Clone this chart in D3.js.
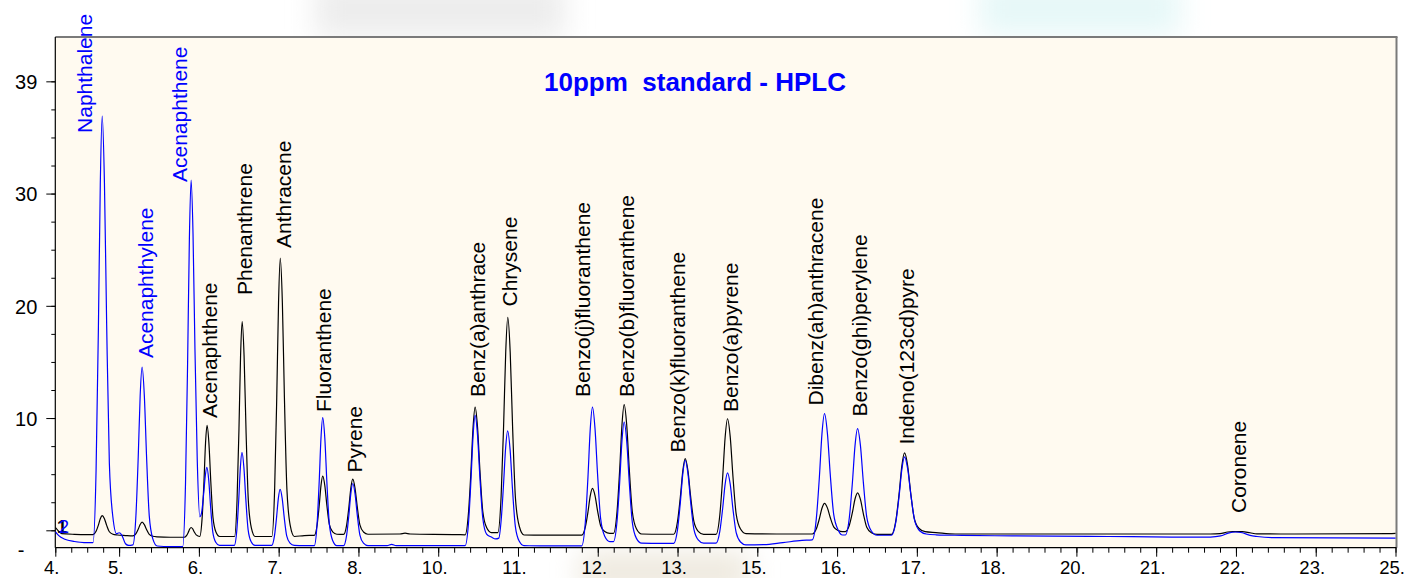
<!DOCTYPE html>
<html><head><meta charset="utf-8">
<script src="https://cdn.jsdelivr.net/npm/d3@7"></script>
<style>
body{margin:0;background:#fff;}
svg{display:block;}
text{font-family:"Liberation Sans",Arial,Helvetica,sans-serif;}
</style>
</head><body>
<svg id="chart" width="1407" height="578"></svg>
<script>
// ---------------- DATA ----------------
const chartTitle = "10ppm  standard - HPLC";
const xStartLabel = "4.";
const xTickValues = [5,6.25,7.5,8.75,10,11.25,12.5,13.75,15,16.25,17.5,18.75,20,21.25,22.5,23.75,25];
const xTickLabels = ["5.","6.","7.","8.","10.","11.","12.","13.","15.","16.","17.","18.","20.","21.","22.","23.","25."];
const yTickValues = [0,10,20,30,40];
const yTickLabels = ["","10","20","30","39"];
const yBottomLabel = "-";
const channelMarkers = ["1","2"];

// black trace (UV channel): [time (min), signal]
const blackTrace = [
[4.00,0.25],[4.04,0.0],[4.10,-0.3],[4.30,-0.36],[4.50,-0.38],
[4.591,-0.38],[4.639,-0.09],[4.675,0.46],[4.705,1.03],[4.735,1.3],[4.770,1.03],[4.805,0.44],[4.847,-0.13],[4.903,-0.35],[4.973,-0.42],
[5.10,-0.47],
[5.216,-0.5],[5.264,-0.29],[5.300,0.11],[5.330,0.52],[5.360,0.72],[5.395,0.51],[5.430,0.07],[5.472,-0.36],[5.528,-0.53],[5.598,-0.58],
[5.80,-0.62],[6.02,-0.62],
[6.056,-0.47],[6.083,-0.19],[6.106,0.11],[6.128,0.25],[6.153,0.12],[6.178,-0.15],[6.208,-0.41],
[6.263,-0.55],[6.301,1.13],[6.330,4.4],[6.354,7.77],[6.378,9.35],[6.407,7.77],[6.436,4.4],[6.471,1.13],[6.517,-0.15],[6.575,-0.55],
[6.808,-0.55],[6.848,2.71],[6.878,9.03],[6.903,15.54],[6.928,18.6],[6.958,15.54],[6.988,9.03],[7.024,2.71],[7.072,0.22],[7.132,-0.55],
[7.393,-0.55],[7.437,3.67],[7.470,11.85],[7.498,20.28],[7.525,24.25],[7.558,20.28],[7.590,11.85],[7.629,3.67],[7.681,0.44],[7.746,-0.55],
[7.90,-0.47],
[8.058,-0.45],[8.102,0.45],[8.135,2.19],[8.163,3.98],[8.190,4.82],[8.223,3.99],[8.255,2.24],[8.294,0.53],[8.346,-0.14],[8.411,-0.35],
[8.517,-0.37],[8.565,0.47],[8.601,2.1],[8.631,3.77],[8.661,4.56],[8.696,3.77],[8.731,2.11],[8.773,0.48],[8.829,-0.15],[8.899,-0.35],
[9.40,-0.33],[9.48,-0.25],[9.56,-0.33],[10.30,-0.38],
[10.422,-0.4],[10.474,1.53],[10.513,5.29],[10.546,9.16],[10.578,10.98],[10.616,9.19],[10.653,5.39],[10.698,1.7],[10.758,0.25],[10.833,-0.2],
[10.934,-0.2],[10.986,3.06],[11.025,9.39],[11.058,15.9],[11.090,18.97],[11.128,15.87],[11.165,9.28],[11.210,2.88],[11.270,0.36],[11.345,-0.42],
[11.60,-0.43],[12.20,-0.43],
[12.249,-0.43],[12.305,0.28],[12.347,1.65],[12.382,3.06],[12.417,3.73],[12.457,3.09],[12.497,1.73],[12.545,0.41],[12.609,-0.11],[12.689,-0.27],
[12.746,-0.27],[12.802,1.68],[12.844,5.46],[12.879,9.36],[12.914,11.19],[12.954,9.35],[12.994,5.43],[13.042,1.63],[13.106,0.13],[13.186,-0.33],
[13.50,-0.35],
[13.690,-0.35],[13.750,0.8],[13.795,3.02],[13.833,5.31],[13.870,6.39],[13.913,5.31],[13.955,3.02],[14.006,0.79],[14.074,-0.09],[14.159,-0.36],
[14.353,-0.36],[14.413,1.39],[14.458,4.79],[14.496,8.29],[14.533,9.94],[14.576,8.3],[14.618,4.82],[14.669,1.44],[14.737,0.11],[14.822,-0.3],
[15.30,-0.33],[15.80,-0.33],
[15.861,-0.33],[15.925,0.13],[15.973,1.04],[16.013,1.96],[16.053,2.4],[16.098,2.0],[16.143,1.14],[16.197,0.31],[16.269,-0.02],[16.330,-0.12],
[16.379,-0.12],[16.443,0.47],[16.491,1.61],[16.531,2.79],[16.571,3.34],[16.616,2.75],[16.661,1.49],[16.715,0.27],[16.787,-0.21],[16.877,-0.36],
[17.103,-0.36],[17.171,0.87],[17.222,3.27],[17.265,5.74],[17.307,6.9],[17.355,5.78],[17.402,3.39],[17.459,1.07],[17.535,0.16],[17.630,-0.12],
[17.80,-0.2],[18.10,-0.33],[20.50,-0.33],[22.10,-0.33],
[22.25,-0.3],[22.37,-0.15],[22.45,-0.12],[22.60,-0.12],[22.72,-0.22],[22.83,-0.32],
[23.20,-0.33],[24.90,-0.3],[25.00,-0.28]
];

// blue trace (fluorescence channel): [time (min), signal]
const blueTrace = [
[4.00,-0.12],[4.05,-0.45],[4.15,-0.8],[4.30,-1.0],[4.45,-1.1],
[4.591,-1.1],[4.639,5.36],[4.675,17.9],[4.705,30.82],[4.735,36.9],[4.770,30.94],[4.805,18.28],[4.847,5.98],[4.903,1.14],[4.960,-0.3],
[5.00,-0.22],[5.04,-0.4],[5.10,-1.2],[5.15,-1.35],
[5.216,-1.3],[5.264,1.39],[5.300,6.63],[5.330,12.01],[5.360,14.55],[5.395,12.0],[5.430,6.58],[5.472,1.31],[5.528,-0.76],[5.598,-1.4],
[5.80,-1.45],[5.996,-1.45],
[6.040,4.1],[6.073,14.88],[6.101,25.98],[6.128,31.2],[6.158,26.4],[6.188,16.2],[6.224,6.3],[6.265,1.2],
[6.290,1.5],[6.327,3.4],[6.351,4.9],[6.375,5.6],[6.404,4.49],[6.433,2.13],[6.468,-0.17],[6.514,-1.07],[6.572,-1.35],
[6.805,-1.35],[6.845,0.06],[6.875,2.8],[6.900,5.61],[6.925,6.94],[6.955,5.61],[6.985,2.8],[7.021,0.06],[7.069,-1.02],[7.129,-1.35],
[7.390,-1.35],[7.434,-0.5],[7.467,1.15],[7.495,2.85],[7.522,3.65],[7.555,2.85],[7.587,1.15],[7.626,-0.5],[7.678,-1.15],[7.743,-1.35],
[7.90,-1.37],
[8.058,-1.37],[8.102,0.57],[8.135,4.33],[8.163,8.21],[8.190,10.03],[8.223,8.21],[8.255,4.33],[8.294,0.57],[8.346,-0.91],[8.411,-1.37],
[8.517,-1.37],[8.565,-0.43],[8.601,1.4],[8.631,3.28],[8.661,4.17],[8.696,3.28],[8.731,1.4],[8.773,-0.43],[8.829,-1.15],[8.899,-1.37],
[9.20,-1.37],[9.27,-1.25],[9.34,-1.37],[10.35,-1.37],
[10.422,-1.37],[10.474,0.6],[10.513,4.43],[10.546,8.38],[10.578,10.24],[10.616,8.48],[10.653,4.73],[10.698,1.1],[10.758,-0.33],[10.833,-0.6],
[10.90,-0.77],[10.950,-0.7],[10.986,0.87],[11.023,4.04],[11.056,7.31],[11.088,8.85],[11.126,7.21],[11.163,3.74],[11.208,0.37],[11.268,-0.96],[11.343,-1.37],
[11.60,-1.38],[12.20,-1.38],
[12.249,-1.38],[12.305,0.72],[12.347,4.8],[12.382,9.0],[12.417,10.98],[12.457,9.06],[12.497,4.99],[12.545,1.04],[12.609,-0.52],[12.689,-1.0],
[12.746,-1.0],[12.802,0.81],[12.844,4.33],[12.879,7.95],[12.914,9.65],[12.954,7.92],[12.994,4.25],[13.042,0.69],[13.106,-0.72],[13.186,-1.15],
[13.50,-1.17],
[13.690,-1.17],[13.750,0.09],[13.795,2.53],[13.833,5.05],[13.870,6.24],[13.913,5.06],[13.955,2.55],[14.006,0.11],[14.074,-0.85],[14.159,-1.15],
[14.353,-1.15],[14.413,-0.08],[14.458,1.99],[14.496,4.12],[14.533,5.12],[14.576,4.09],[14.618,1.91],[14.669,-0.21],[14.737,-1.04],[14.822,-1.3],
[15.10,-1.28],[15.40,-1.1],[15.70,-0.9],
[15.861,-0.85],[15.925,1.06],[15.973,4.77],[16.013,8.59],[16.053,10.39],[16.098,8.66],[16.143,4.98],[16.197,1.42],[16.269,0.01],[16.335,-0.42],
[16.379,-0.42],[16.443,1.19],[16.491,4.32],[16.531,7.54],[16.571,9.06],[16.616,7.54],[16.661,4.31],[16.715,1.18],[16.787,-0.06],[16.877,-0.44],
[17.103,-0.44],[17.171,0.75],[17.222,3.05],[17.265,5.42],[17.307,6.54],[17.357,5.44],[17.407,3.11],[17.467,0.84],[17.547,-0.06],[17.647,-0.33],
[17.80,-0.4],[18.20,-0.45],[19.00,-0.5],[20.50,-0.55],[21.50,-0.6],[22.10,-0.6],
[22.26,-0.5],[22.38,-0.25],[22.49,-0.15],[22.60,-0.22],[22.72,-0.45],[22.83,-0.55],[23.07,-0.65],[25.00,-0.7]
];

// peak labels
const labelNames = ["Naphthalene","Acenaphthylene","Acenaphthene","Acenaphthene","Phenanthrene","Anthracene","Fluoranthene","Pyrene","Benz(a)anthrace","Chrysene","Benzo(j)fluoranthene","Benzo(b)fluoranthene","Benzo(k)fluoranthene","Benzo(a)pyrene","Dibenz(ah)anthracene","Benzo(ghi)perylene","Indeno(123cd)pyre","Coronene"];
const labelTimes = [4.575,5.531,6.064,6.534,7.082,7.693,8.320,8.806,10.733,11.235,12.379,13.068,13.867,14.697,16.029,16.718,17.455,22.657];
const labelValues = [35.4,15.34,31.03,10.01,20.96,25.15,10.54,5.15,11.88,19.94,11.88,11.88,6.93,10.54,11.12,10.14,7.64,1.54];
const labelChannel = ["blue","blue","blue","black","black","black","black","black","black","black","black","black","black","black","black","black","black","black"];

// ---------------- LAYOUT / STYLE ----------------
const W = 1407, H = 578;
const plot = {left:55.3, right:1396.5, top:37, bottom:547.7};
const colors = {black:"#000000", blue:"#0000ff", bg:"#fffaf0", frame:"#7a7a7a"};

const svg = d3.select("#chart");
svg.append("rect").attr("width",W).attr("height",H).attr("fill","#ffffff");

// faint background smudges seen outside the plot area
const defs = svg.append("defs");
const blur = defs.append("filter").attr("id","blur").attr("x","-50%").attr("y","-50%").attr("width","200%").attr("height","200%");
blur.append("feGaussianBlur").attr("stdDeviation",14);
svg.append("rect").attr("x",315).attr("y",-20).attr("width",250).attr("height",58).attr("fill","#ededed").attr("filter","url(#blur)");
svg.append("rect").attr("x",980).attr("y",-20).attr("width",200).attr("height",55).attr("fill","#e6f8f8").attr("filter","url(#blur)");
svg.append("rect").attr("x",580).attr("y",552).attr("width",170).attr("height",40).attr("fill","#eee9de").attr("filter","url(#blur)");

defs.append("clipPath").attr("id","clip").append("rect")
  .attr("x",plot.left).attr("y",plot.top).attr("width",plot.right-plot.left).attr("height",plot.bottom-plot.top);

const x = d3.scaleLinear().domain([4,25]).range([plot.left,1395.5]);
const y = d3.scaleLinear().domain([-1.55,43.95]).range([plot.bottom,plot.top]);

// plot background
svg.append("rect").attr("x",plot.left).attr("y",plot.top)
  .attr("width",plot.right-plot.left).attr("height",plot.bottom-plot.top).attr("fill",colors.bg);

// frame
svg.append("line").attr("x1",plot.left).attr("x2",plot.right+1).attr("y1",plot.top).attr("y2",plot.top)
  .attr("stroke",colors.frame).attr("stroke-width",2);
svg.append("line").attr("x1",plot.right).attr("x2",plot.right).attr("y1",plot.top).attr("y2",plot.bottom)
  .attr("stroke",colors.frame).attr("stroke-width",2);
svg.append("line").attr("x1",plot.left).attr("x2",plot.left).attr("y1",plot.top).attr("y2",plot.bottom)
  .attr("stroke","#000").attr("stroke-width",1.2);
svg.append("line").attr("x1",plot.left).attr("x2",plot.right).attr("y1",plot.bottom).attr("y2",plot.bottom)
  .attr("stroke","#000").attr("stroke-width",1.2);

// title
svg.append("text").attr("x",695).attr("y",91).attr("text-anchor","middle")
  .style("white-space","pre").attr("font-size",26).attr("font-weight","bold")
  .attr("fill",colors.blue).text(chartTitle);

// traces
const line = d3.line().x(d=>x(d[0])).y(d=>y(d[1])).curve(d3.curveMonotoneX);
const g = svg.append("g").attr("clip-path","url(#clip)");
g.append("path").datum(blackTrace).attr("d",line).attr("fill","none").attr("stroke",colors.black).attr("stroke-width",1.2);
g.append("path").datum(blueTrace).attr("d",line).attr("fill","none").attr("stroke",colors.blue).attr("stroke-width",1.2);

// x axis
const xMajorVals = [4].concat(xTickValues);
const xMajorLabels = [xStartLabel].concat(xTickLabels);
const xMinor = svg.append("g").attr("transform",`translate(0,${plot.bottom})`)
  .call(d3.axisBottom(x).tickValues(d3.range(4,25.0001,0.25)).tickSize(5).tickFormat(""));
xMinor.select(".domain").remove();
const xMajor = svg.append("g").attr("transform",`translate(0,${plot.bottom})`)
  .call(d3.axisBottom(x).tickValues(xMajorVals).tickSize(9).tickFormat((d,i)=>xMajorLabels[i]));
xMajor.select(".domain").remove();
xMajor.selectAll("text").attr("y",26).attr("dy",0).attr("dx",-4)
  .attr("font-size",18.5).attr("font-family","Liberation Sans, Arial, sans-serif").attr("fill","#000");
svg.selectAll(".tick line").attr("stroke","#000");

// y axis
const yMinor = svg.append("g").attr("transform",`translate(${plot.left},0)`)
  .call(d3.axisLeft(y).tickValues(d3.range(0,40.001,2.5)).tickSize(4).tickFormat(""));
yMinor.select(".domain").remove();
const yMajor = svg.append("g").attr("transform",`translate(${plot.left},0)`)
  .call(d3.axisLeft(y).tickValues(yTickValues).tickSize(9).tickFormat((d,i)=>yTickLabels[i]));
yMajor.select(".domain").remove();
yMajor.selectAll("text").attr("x",-18).attr("dy","0.36em")
  .attr("font-size",20).attr("font-family","Liberation Sans, Arial, sans-serif").attr("fill","#000");
svg.selectAll(".tick line").attr("stroke","#000");
svg.append("text").attr("x",21).attr("y",557).attr("text-anchor","middle").attr("font-size",20).attr("fill","#000").text(yBottomLabel);

// channel markers
svg.append("text").attr("x",57).attr("y",533).attr("font-size",18).attr("font-weight","bold").attr("fill",colors.black).text(channelMarkers[0]);
svg.append("text").attr("x",59).attr("y",533).attr("font-size",18).attr("fill",colors.blue).text(channelMarkers[1]);

// peak labels (rotated)
svg.append("g").selectAll("text").data(labelNames).join("text")
  .attr("transform",(d,i)=>`translate(${x(labelTimes[i])},${y(labelValues[i])}) rotate(-90)`)
  .attr("text-anchor","start").attr("font-size",21)
  .attr("fill",(d,i)=>colors[labelChannel[i]]).text(d=>d);
</script>
</body></html>
